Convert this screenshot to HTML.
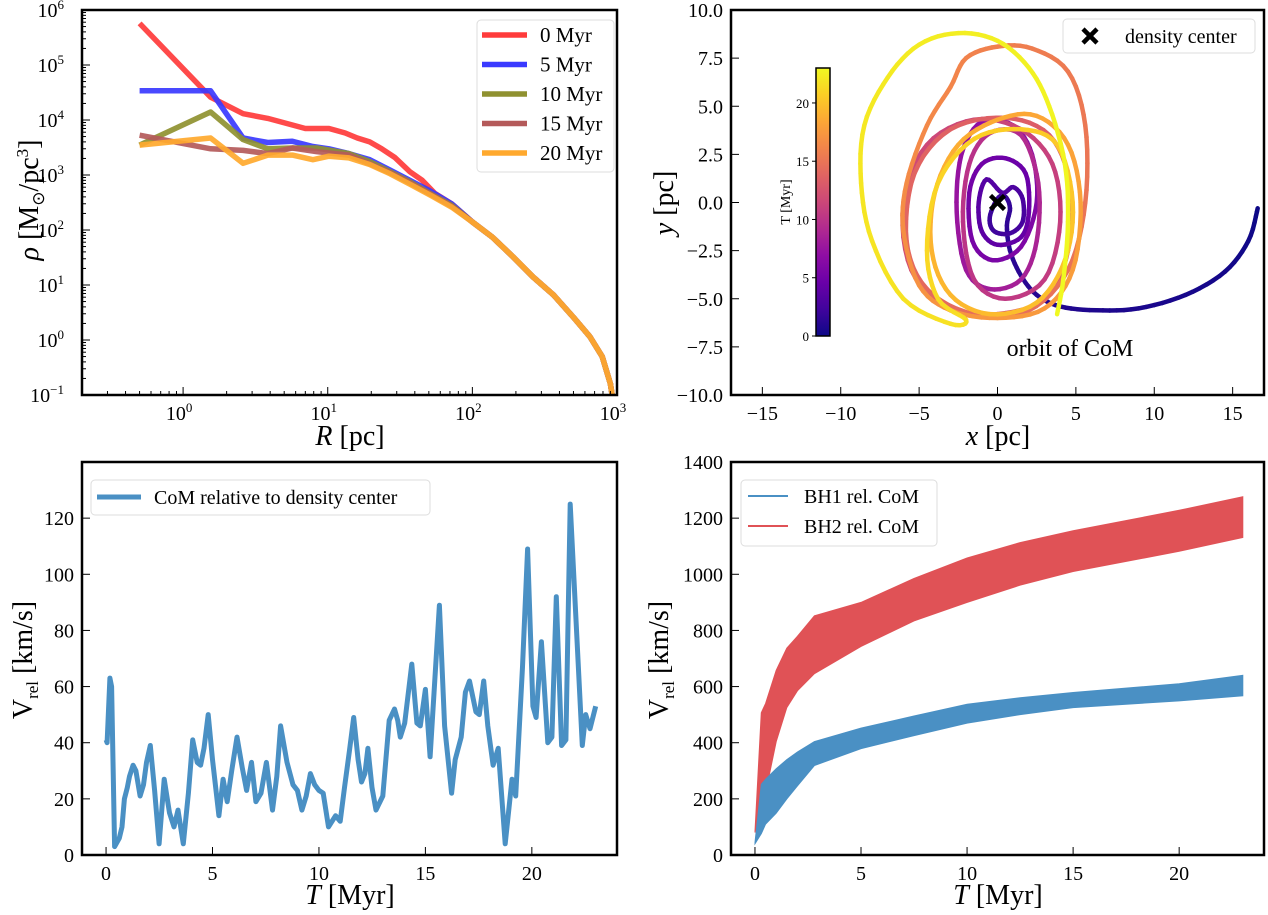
<!DOCTYPE html>
<html><head><meta charset="utf-8"><style>
html,body{margin:0;padding:0;background:#fff;}
svg{display:block;font-family:"Liberation Serif",serif;}
</style></head><body>
<svg id="fig" width="1268" height="915" viewBox="0 0 1268 915" xmlns="http://www.w3.org/2000/svg"></svg>
<script>
// ---------- Panel 1: density profiles ----------
const profileLabels = ["0 Myr","5 Myr","10 Myr","15 Myr","20 Myr"];
const profileColors = ["#ff3b3b","#3a3aff","#8f9130","#b45a5a","#ffa92e"];
const r0 = [0.5,1.55,2.6,3.85,5.7,7,10.2,13.2,16,19.5,23.6,29,37,45,55,72];
const rho0 = [5.7e5,2.6e4,1.3e4,1.07e4,8.1e3,7e3,7e3,5.8e3,4.7e3,4e3,3e3,2.1e3,1.15e3,800,465,300];
const r5 = [0.5,1.55,2.6,3.85,5.7,7.9,10.2,14,19.5,27,37,52,72];
const rho5 = [3.4e4,3.4e4,4.7e3,3.9e3,4.1e3,3.3e3,3e3,2.45e3,1.9e3,1.23e3,800,500,300];
const r10 = [0.5,1.55,2.6,3.85,5.7,8.4,14,19.5,27,37,52,72];
const rho10 = [3.5e3,1.4e4,4.4e3,3e3,3.1e3,3.1e3,2.45e3,1.75e3,1.15e3,750,450,280];
const r15 = [0.5,1.55,2.6,3.85,5.7,8.4,14,19.5,27,37,52,72];
const rho15 = [5.3e3,3e3,2.8e3,2.45e3,3.1e3,2.65e3,2.3e3,1.6e3,1.1e3,720,440,270];
const r20 = [0.5,1.55,2.6,3.85,5.7,7.9,10.2,14,19.5,27,37,52,72];
const rho20 = [3.5e3,4.7e3,1.63e3,2.3e3,2.3e3,1.9e3,2.2e3,2.05e3,1.55e3,1.05e3,680,420,260];
const tailR = [100,137,190,263,364,505,650,790,900,930];
const tailRho = [140,75,33,14,6.6,2.5,1.15,0.5,0.16,0.093];
const xTicksLog = [0,1,2,3];
const yTicksLog = [-1,0,1,2,3,4,5,6];

// ---------- Panel 2: orbit ----------
const orbitT = [0,0.15,0.3,0.45,0.6,0.75,0.9,1.05,1.2,1.35,1.5,1.65,1.8,1.95,
 2.0,2.2,2.4,2.6,2.8,3.0,3.2,3.4,3.6,3.8,4.0,4.2,4.4,4.6,4.8,5.0,5.2,5.4,5.6,5.8,
 6.0,6.3,6.6,6.9,7.2,7.5,7.8,8.1,8.4,8.7,9.0,9.3,9.6,9.9,
 10.0,10.2,10.4,10.6,10.8,11.0,11.2,11.4,11.6,11.8,12.0,12.2,12.4,12.6,12.8,13.0,13.2,13.4,13.6,13.8,14.0,
 14.2,14.4,14.6,14.8,15.0,15.2,15.4,15.6,15.8,16.0,16.2,16.4,16.6,16.8,17.0,17.2,
 17.4,17.6,17.8,18.0,18.2,18.4,18.6,18.8,19.0,19.2,19.4,19.6,19.8,20.0,20.2,20.4,20.6,20.8,21.0,21.2,21.4,21.6,
 21.7,21.8,21.9,22.0,22.1,22.2,22.3,22.4,22.5,22.6,22.7,22.8,22.9,23.0,23.1];
const orbitX = [16.6,16,14.5,12,9,6.3,4,2.5,1.5,0.8,0.6,0.8,0.5,0,
 -0.5,-0.2,0.8,1.6,1.6,1,0.3,-0.7,-1.2,-1,0,1.5,2,1.8,0.5,-1,-1.8,-1.6,-0.3,1.5,
 2.5,2.2,1,-1,-2.3,-2.6,-2,-0.5,1.5,2.5,2.6,1.5,-0.5,-1.8,
 -2.2,-1.5,0.5,3,4,3.5,1.5,-1.5,-4.5,-6,-5.5,-3,0,3,4.5,4.6,3.3,0.5,-3,-5.3,-5.8,
 -4.5,-1.5,2,4.5,5.6,5.6,4.5,2.2,0,-2,-3,-4.5,-5.8,-6,-5,-3,
 0,3,4.8,5.3,4.5,2.5,0,-2.5,-4,-4.2,-3,-0.5,2.5,4.3,4.8,3.8,1.5,-1.5,-3.8,-4.5,-3.8,-2,
 -3,-6,-8,-8.7,-8.5,-7,-5,-2.5,0,2,3.3,4.3,4.5,4.2,3.8];
const orbitY = [-0.3,-2,-3.6,-4.8,-5.5,-5.6,-5.4,-4.8,-3.8,-2.5,-1.2,-0.3,0.3,0.2,
 -0.8,-1.5,-1.6,-1,0.2,0.8,0.5,1.2,0,-1.5,-2.2,-1.8,-0.5,1.5,2.3,2,0.5,-2,-3,-2.3,
 0,2.5,4,4.2,2.5,-0.5,-3.5,-4.5,-4,-2,1,3.5,3.6,2,
 -1,-4,-5,-4,-1,2,3.8,4.3,3,0,-3.5,-5.6,-5.8,-5,-2.5,1,3.5,4.4,3.8,1.5,-2,
 -4.5,-5.8,-5.6,-3.5,0,4,6.8,8,8.1,7.5,6,4,1,-1.5,-4.3,-5.6,
 -6,-5.5,-3.5,0,3,4.5,4.3,3,0.5,-2.5,-4.8,-5.8,-5.2,-3,0,3,3.8,3.3,1,-2.5,-5,-6.1,
 -6.3,-5,-2,1,4,6.5,8.2,8.8,8.4,7,5,2,-1,-4,-5.8];
const orbitXTicks = [-15,-10,-5,0,5,10,15];
const orbitYTicks = [-10,-7.5,-5,-2.5,0,2.5,5,7.5,10];
const cbarTicks = [0,5,10,15,20];

// ---------- Panel 3: CoM relative velocity ----------
const vT = [0,0.05,0.18,0.26,0.4,0.62,0.75,0.86,1.0,1.1,1.27,1.4,1.6,1.76,1.9,2.08,2.28,2.49,2.73,2.98,3.19,3.38,3.63,3.87,4.07,4.28,4.44,4.6,4.8,5.0,5.3,5.5,5.69,5.9,6.15,6.4,6.6,6.83,7.04,7.28,7.53,7.82,8.02,8.2,8.5,8.78,8.99,9.2,9.4,9.6,9.8,10.0,10.2,10.45,10.78,11.0,11.2,11.43,11.63,11.84,12.0,12.16,12.3,12.49,12.68,13.0,13.3,13.55,13.7,13.82,14.03,14.36,14.6,14.76,15.0,15.22,15.66,15.9,16.23,16.4,16.68,16.88,17.07,17.37,17.53,17.74,17.93,18.18,18.42,18.75,19.07,19.24,19.56,19.8,20.05,20.2,20.45,20.75,20.94,21.15,21.4,21.6,21.8,22.37,22.53,22.73,23.0];
const vRel = [41,40,63,60,3,6,10,20,24,28,32,30,21,25,33,39,23,4,27,15,10,16,4,22,41,33,32,38,50,34,14,27,19,30,42,31,23,33,19,22,33,16,28,46,33,25,23,16,21,29,25,23,22,10,14,12,24,37,49,34,26,29,38,24,16,21,48,52,48,42,47,68,47,46,59,35,89,46,22,34,42,58,62,51,50,62,46,32,38,4,27,21,67,109,53,49,76,40,42,92,39,41,125,39,50,45,53];
const vXTicks = [0,5,10,15,20];
const vYTicks = [0,20,40,60,80,100,120];

// ---------- Panel 4: BH velocities (band envelopes) ----------
const bhT = [0,0.3,0.5,1,1.5,2,2.8,5,7.5,10,12.5,15,20,23];
const bh1Upper = [45,252,270,307,340,367,404,452,495,537,560,579,610,640];
const bh1Lower = [40,76,110,149,200,246,319,379,425,470,500,525,549,567];
const bh2Upper = [85,507,540,658,737,779,852,900,985,1058,1113,1155,1228,1276];
const bh2Lower = [80,155,222,404,525,585,646,743,834,900,961,1010,1082,1131];
const bhYTicks = [0,200,400,600,800,1000,1200,1400];

const NS = "http://www.w3.org/2000/svg";
const svg = document.getElementById('fig');
function el(tag, attrs, parent){
  const e = document.createElementNS(NS, tag);
  for (const k in attrs) e.setAttribute(k, attrs[k]);
  (parent||svg).appendChild(e);
  return e;
}
function txt(str, x, y, size, anchor, parent){
  const t = el('text', {x:x, y:y, 'font-size':size, 'text-anchor':anchor||'middle', fill:'#000'}, parent);
  t.textContent = str;
  return t;
}
function pathFrom(pts){ return pts.map((p,i)=>(i?'L':'M')+p[0].toFixed(1)+' '+p[1].toFixed(1)).join(' '); }

// ===== Panel 1 =====
const A1 = {l:82,r:617,t:10,b:395};
const lx0 = Math.log10(0.2), lx1 = 3;
function x1(R){ return A1.l + (Math.log10(R)-lx0)/(lx1-lx0)*(A1.r-A1.l); }
function y1(v){ return A1.b - (Math.log10(v)+1)/7*(A1.b-A1.t); }
const g1 = el('g', {});


const seriesR = [r0,r5,r10,r15,r20];
const seriesRho = [rho0,rho5,rho10,rho15,rho20];
const clip1 = el('clipPath', {id:'c1'}, g1);
el('rect', {x:A1.l, y:A1.t, width:A1.r-A1.l, height:A1.b-A1.t}, clip1);
for (let s=0;s<5;s++){
  const R = seriesR[s].concat(tailR), V = seriesRho[s].concat(tailRho);
  const pts = R.map((r,i)=>[x1(r), y1(V[i])]);
  const p = el('path', {d:pathFrom(pts), fill:'none', stroke:profileColors[s], 'stroke-width':5.5, 'stroke-opacity':0.92, 'stroke-linejoin':'round', 'clip-path':'url(#c1)'}, g1);
  
  
}
// ticks
for (let d=-1; d<3; d++){ for (let m=1;m<10;m++){ const R = m*Math.pow(10,d); if (R<0.2||R>1000) continue; const X=x1(R); el('line',{x1:X,x2:X,y1:A1.b,y2:A1.b-(m===1?8:4),stroke:'#000','stroke-width':1},g1);} }
for (let d=-1; d<6; d++){ for (let m=1;m<10;m++){ const v=m*Math.pow(10,d); const Y=y1(v); el('line',{x1:A1.l,x2:A1.l+(m===1?8:4),y1:Y,y2:Y,stroke:'#000','stroke-width':1},g1);} }
xTicksLog.forEach(e=>{
  const t = txt('10', x1(Math.pow(10,e))-4, A1.b+25, 20, 'middle', g1);
  const s = el('tspan', {dy:-8, 'font-size':13}, t); s.textContent = String(e);
  
  
});
yTicksLog.forEach(e=>{
  const t = txt('10', A1.l-18, y1(Math.pow(10,e))+7, 20, 'end', g1);
  const s = el('tspan', {dy:-8, 'font-size':13}, t); s.textContent = e<0 ? '\u2212'+(-e) : String(e);
  
  
});
{
  const bx = el('rect',{x:A1.l,y:A1.t,width:A1.r-A1.l,height:A1.b-A1.t,fill:'none',stroke:'#000','stroke-width':2.5},g1);
   
  const xl = el('text',{x:350,y:445,'font-size':28,'text-anchor':'middle'},g1);
  xl.innerHTML = '<tspan font-style="italic">R</tspan> [pc]';
   
  const yl = el('text',{x:0,y:0,'font-size':28,'text-anchor':'middle',transform:'translate(38,200) rotate(-90)'},g1);
  yl.innerHTML = '<tspan font-style="italic">ρ</tspan> [M<tspan font-size="17" dy="6">⊙</tspan><tspan dy="-6">/pc</tspan><tspan font-size="17" dy="-10">3</tspan><tspan dy="10">]</tspan>';
   
  const lg = el('g',{},g1);
   
  el('rect',{x:477,y:20,width:137,height:152,rx:4,fill:'#fff',stroke:'#ddd','stroke-width':1},lg);
  profileLabels.forEach((lab,i)=>{
    const Y = 35+i*29.5;
    const e = el('g',{},lg);
    
    
    el('line',{x1:482,x2:527,y1:Y,y2:Y,stroke:profileColors[i],'stroke-width':5.5},e);
    txt(lab,540,Y+7,21,'start',e);
  });
}

// ===== Panel 2 =====
const A2 = {l:731,r:1264,t:10,b:395};
function x2(v){ return A2.l + (v+17)/34*(A2.r-A2.l); }
function y2(v){ return A2.b - (v+10)/20*(A2.b-A2.t); }
const g2 = el('g',{});


const plasma = ['#0d0887','#41049d','#6a00a8','#8f0da4','#b12a90','#cc4778','#e16462','#f2844b','#fca636','#fcce25','#f0f921'];
function hex(h){ return [parseInt(h.substr(1,2),16),parseInt(h.substr(3,2),16),parseInt(h.substr(5,2),16)]; }
const TMAX = 23.0;
function cmap(t){
  let f = Math.max(0,Math.min(1,t/TMAX))*10; let i = Math.min(9,Math.floor(f)); let u=f-i;
  const a=hex(plasma[i]), b=hex(plasma[i+1]);
  return 'rgb('+a.map((c,k)=>Math.round(c+(b[k]-c)*u)).join(',')+')';
}
const og = el('g',{},g2);


const N = orbitT.length;
for (let i=0;i<N-1;i++){
  const p0=[orbitX[Math.max(0,i-1)],orbitY[Math.max(0,i-1)]], p1=[orbitX[i],orbitY[i]], p2=[orbitX[i+1],orbitY[i+1]], p3=[orbitX[Math.min(N-1,i+2)],orbitY[Math.min(N-1,i+2)]];
  const sub=6; let prev=[x2(p1[0]),y2(p1[1])];
  for (let k=1;k<=sub;k++){
    const u=k/sub, u2=u*u, u3=u2*u;
    const cr = j=>0.5*((2*p1[j])+(-p0[j]+p2[j])*u+(2*p0[j]-5*p1[j]+4*p2[j]-p3[j])*u2+(-p0[j]+3*p1[j]-3*p2[j]+p3[j])*u3);
    const cur=[x2(cr(0)),y2(cr(1))];
    const tt = orbitT[i]+(orbitT[i+1]-orbitT[i])*(u-0.5/sub);
    el('line',{x1:prev[0].toFixed(1),y1:prev[1].toFixed(1),x2:cur[0].toFixed(1),y2:cur[1].toFixed(1),stroke:cmap(tt),'stroke-width':4.5,'stroke-linecap':'round'},og);
    prev=cur;
  }
}
{
  const cx=x2(0), cy=y2(0);
  const m = el('path',{d:`M${cx-7} ${cy-7}L${cx+7} ${cy+7}M${cx+7} ${cy-7}L${cx-7} ${cy+7}`,stroke:'#000','stroke-width':4.5},g2);
   
}
orbitXTicks.forEach(v=>{ const X=x2(v); el('line',{x1:X,x2:X,y1:A2.b,y2:A2.b-8,stroke:'#000'},g2);
  const t=txt(v<0?'\u2212'+(-v):String(v),X,A2.b+25,20,'middle',g2);
    });
orbitYTicks.forEach(v=>{ const Y=y2(v); el('line',{x1:A2.l,x2:A2.l+8,y1:Y,y2:Y,stroke:'#000'},g2);
  const t=txt((v<0?'\u2212':'')+Math.abs(v).toFixed(1),A2.l-8,Y+7,20,'end',g2);
    });
{
  // colorbar
  const cb = el('g',{},g2);
   
  const defs = el('defs',{},cb);
  const lgd = el('linearGradient',{id:'plasmaG',x1:0,y1:1,x2:0,y2:0},defs);
  plasma.forEach((c,i)=>el('stop',{offset:(i*10)+'%','stop-color':c},lgd));
  const cT=68, cB=336;
  el('rect',{x:816,y:cT,width:14,height:cB-cT,fill:'url(#plasmaG)',stroke:'#000','stroke-width':1.5},cb);
  cbarTicks.forEach(v=>{ const Y=cB-v/TMAX*(cB-cT); el('line',{x1:816,x2:812,y1:Y,y2:Y,stroke:'#000'},cb); txt(String(v),809,Y+5,13,'end',cb); });
  const cl = el('text',{x:0,y:0,'font-size':14,'text-anchor':'middle',transform:'translate(790,202) rotate(-90)'},cb);
  cl.textContent='T [Myr]';
  const bx = el('rect',{x:A2.l,y:A2.t,width:A2.r-A2.l,height:A2.b-A2.t,fill:'none',stroke:'#000','stroke-width':2.5},g2);
   
  const ann = txt('orbit of CoM',1070,356,24,'middle',g2);
   
  const xl = el('text',{x:998,y:445,'font-size':28,'text-anchor':'middle'},g2);
  xl.innerHTML='<tspan font-style="italic">x</tspan> [pc]';
   
  const yl = el('text',{x:0,y:0,'font-size':28,'text-anchor':'middle',transform:'translate(673,203) rotate(-90)'},g2);
  yl.innerHTML='<tspan font-style="italic">y</tspan> [pc]';
   
  const lg = el('g',{},g2);
   
  el('rect',{x:1063,y:19,width:192,height:34,rx:4,fill:'#fff',stroke:'#ddd'},lg);
  el('path',{d:'M1083 29L1097 43M1097 29L1083 43',stroke:'#000','stroke-width':4.5},lg);
  txt('density center',1125,43,20,'start',lg);
}

// ===== Panel 3 =====
const A3 = {l:82,r:617,t:462,b:855};
const TX0=-1.13, TX1=24.0;
function x3(t){ return A3.l+(t-TX0)/(TX1-TX0)*(A3.r-A3.l); }
function y3(v){ return A3.b - v/140*(A3.b-A3.t); }
const g3 = el('g',{});


{
  const p = el('path',{d:pathFrom(vT.map((t,i)=>[x3(t),y3(vRel[i])])),fill:'none',stroke:'#4a90c4','stroke-width':5,'stroke-linejoin':'round'},g3);
   
}
vXTicks.forEach(v=>{ const X=x3(v); el('line',{x1:X,x2:X,y1:A3.b,y2:A3.b-8,stroke:'#000'},g3);
  const t=txt(String(v),X,A3.b+25,20,'middle',g3);   });
vYTicks.forEach(v=>{ const Y=y3(v); el('line',{x1:A3.l,x2:A3.l+8,y1:Y,y2:Y,stroke:'#000'},g3);
  const t=txt(String(v),A3.l-8,Y+7,20,'end',g3);   });
{
  const bx = el('rect',{x:A3.l,y:A3.t,width:A3.r-A3.l,height:A3.b-A3.t,fill:'none',stroke:'#000','stroke-width':2.5},g3);
   
  const xl = el('text',{x:350,y:904,'font-size':28,'text-anchor':'middle'},g3);
  xl.innerHTML='<tspan font-style="italic">T</tspan> [Myr]';
   
  const yl = el('text',{x:0,y:0,'font-size':28,'text-anchor':'middle',transform:'translate(32,660) rotate(-90)'},g3);
  yl.innerHTML='V<tspan font-size="17" dy="6">rel</tspan><tspan dy="-6"> [km/s]</tspan>';
   
  const lg = el('g',{},g3);
   
  el('rect',{x:91,y:480,width:339,height:35,rx:4,fill:'#fff',stroke:'#ddd'},lg);
  el('line',{x1:97,x2:141,y1:497,y2:497,stroke:'#4a90c4','stroke-width':5},lg);
  txt('CoM relative to density center',154,504,20,'start',lg);
}

// ===== Panel 4 =====
const A4 = {l:731,r:1264,t:462,b:855};
function x4(t){ return A4.l+(t-TX0)/(TX1-TX0)*(A4.r-A4.l); }
function y4(v){ return A4.b - v/1400*(A4.b-A4.t); }
const g4 = el('g',{});


function band(up, lo, color, name){
  const pts = bhT.map((t,i)=>[x4(t),y4(up[i])]).concat(bhT.map((t,i)=>[x4(t),y4(lo[i])]).reverse());
  const p = el('path',{d:pathFrom(pts)+'Z',fill:color,stroke:color,'stroke-width':1},g4);
   
}
band(bh2Upper,bh2Lower,'#e05256','bh2-velocity-band');
band(bh1Upper,bh1Lower,'#4a90c4','bh1-velocity-band');
vXTicks.forEach(v=>{ const X=x4(v); el('line',{x1:X,x2:X,y1:A4.b,y2:A4.b-8,stroke:'#000'},g4);
  const t=txt(String(v),X,A4.b+25,20,'middle',g4);   });
bhYTicks.forEach(v=>{ const Y=y4(v); el('line',{x1:A4.l,x2:A4.l+8,y1:Y,y2:Y,stroke:'#000'},g4);
  const t=txt(String(v),A4.l-8,Y+7,20,'end',g4);   });
{
  const bx = el('rect',{x:A4.l,y:A4.t,width:A4.r-A4.l,height:A4.b-A4.t,fill:'none',stroke:'#000','stroke-width':2.5},g4);
   
  const xl = el('text',{x:998,y:904,'font-size':28,'text-anchor':'middle'},g4);
  xl.innerHTML='<tspan font-style="italic">T</tspan> [Myr]';
   
  const yl = el('text',{x:0,y:0,'font-size':28,'text-anchor':'middle',transform:'translate(668,660) rotate(-90)'},g4);
  yl.innerHTML='V<tspan font-size="17" dy="6">rel</tspan><tspan dy="-6"> [km/s]</tspan>';
   
  const lg = el('g',{},g4);
   
  el('rect',{x:741,y:480,width:196,height:66,rx:4,fill:'#fff',stroke:'#ddd'},lg);
  el('line',{x1:748,x2:788,y1:496,y2:496,stroke:'#4a90c4','stroke-width':2},lg);
  txt('BH1 rel. CoM',804,503,20,'start',lg);
  el('line',{x1:748,x2:788,y1:526,y2:526,stroke:'#e05256','stroke-width':2},lg);
  txt('BH2 rel. CoM',804,533,20,'start',lg);
}
</script>
</body></html>
